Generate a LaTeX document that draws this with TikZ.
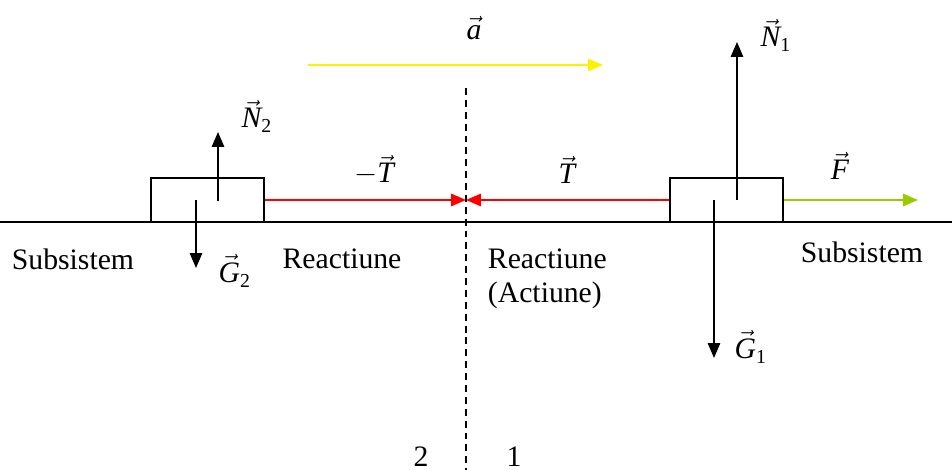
\documentclass[tikz,border=0pt]{standalone}
\usepackage{amsmath}
\usepackage{fontspec}
\setmainfont{Liberation Serif}
\usepackage{tikz}
\usetikzlibrary{arrows.meta, positioning}
\definecolor{pushgreen}{RGB}{153,204,0}

\begin{document}
\begin{tikzpicture}[
            x=0.404pt, y=-0.404pt,
            >={Triangle[length=6pt, width=5pt]},
            force/.style={->, line width=0.6pt},
            pull/.style={->, line width=0.6pt, red},
            body/.style={draw, line width=0.6pt, minimum width=45.6pt, minimum height=17.8pt, inner sep=0pt},
            lbl/.style={inner sep=1pt, font=\fontsize{12pt}{13.8pt}\selectfont},
            vlbl/.style={inner sep=1pt, font=\fontsize{12pt}{13.8pt}\selectfont}
        ]
        \useasboundingbox (0,0) rectangle (952,470);

        % 1. Heights and the cut between the two subsystems
        \def\yG{222}
        \def\yB{200}
        \def\xC{466}

        % 2. Ground and dashed cut
        \coordinate (gl) at (0,\yG);
        \coordinate (gr) at (952,\yG);
        \draw[line width=0.6pt] (gl) -- (gr);
        \coordinate (ctop) at (\xC,88);
        \coordinate (cbot) at (\xC,470);
        \draw[line width=0.6pt, dash pattern=on 2.8pt off 2pt] (ctop) -- (cbot);

        % 3. Bodies
        \node[body] (b2) at (207.5,\yB) {};
        \node[body] (b1) at (726.5,\yB) {};

        % --- ACCELERATION ---
        \coordinate (as) at (308,65);
        \coordinate (ae) at (603,65);
        \draw[force, yellow] (as) -- (ae);
        \node[vlbl] (la) at (474,28) {$\vec{\textit{a}}$};

        % --- SUBSYSTEM 2 ---
        \coordinate (n2s) at (218,201);
        \coordinate (n2e) at (218,132);
        \coordinate (g2s) at (196,200);
        \coordinate (g2e) at (196,268);
        \draw[force] (n2s) -- (n2e);
        \draw[force] (g2s) -- (g2e);
        \node[vlbl] (ln2) at (257,116) {$\vec{\textit{N}}_{\text{2}}$};
        \node[vlbl] (lg2) at (235,271) {$\vec{\textit{G}}_{\text{2}}$};

        % --- TENSION AT THE CUT ---
        \coordinate (cut) at (\xC,\yB);
        \draw[pull] (b2.east) -- (cut);
        \draw[pull] (b1.west) -- (cut);
        \node[vlbl] (lmt) at (374,170) {$-\vec{\textit{T}}$};
        \node[vlbl] (lt) at (567,170) {$\vec{\textit{T}}$};

        % --- SUBSYSTEM 1 ---
        \coordinate (n1s) at (737,200);
        \coordinate (n1e) at (737,42);
        \coordinate (g1s) at (714,200);
        \coordinate (g1e) at (714,358);
        \coordinate (fe) at (918,\yB);
        \draw[force] (n1s) -- (n1e);
        \draw[force] (g1s) -- (g1e);
        \draw[force, pushgreen] (b1.east) -- (fe);
        \node[vlbl] (ln1) at (776,35) {$\vec{\textit{N}}_{\text{1}}$};
        \node[vlbl] (lg1) at (751,347) {$\vec{\textit{G}}_{\text{1}}$};
        \node[vlbl] (lf) at (840,166) {$\vec{\textit{F}}$};

        % --- TEXTS ---
        \node[lbl] (s2) at (73,259) {Subsistem};
        \node[lbl] (r2) at (342,259) {Reactiune};
        \node[lbl, align=left, anchor=north west] (r1) at (485,246) {Reactiune\\(Actiune)};
        \node[lbl] (s1) at (862,252) {Subsistem};
        \node[lbl] (k2) at (421,457) {2};
        \node[lbl] (k1) at (514,457) {1};

        \end{tikzpicture}
\end{document}
